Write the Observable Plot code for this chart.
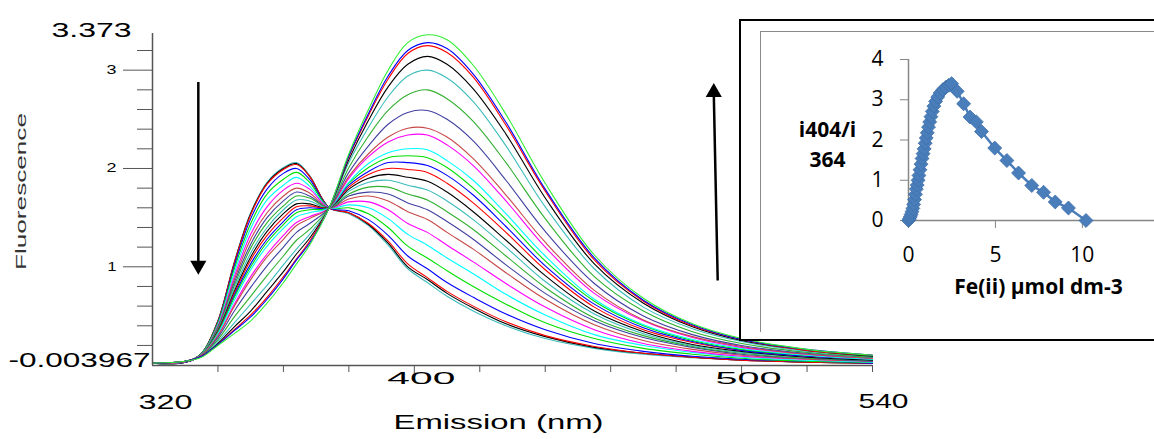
<!DOCTYPE html>
<html>
<head>
<meta charset="utf-8">
<script src="https://cdn.jsdelivr.net/npm/d3@7"></script>
<script src="https://cdn.jsdelivr.net/npm/@observablehq/plot@0.6"></script>
<style>
html, body { margin: 0; padding: 0; background: #fff; }
#wrap { position: relative; width: 1154px; height: 439px; overflow: hidden; background: #fff; }
#main { position: absolute; left: 0; top: 0; }
#insetBox { position: absolute; left: 739px; top: 19px; width: 440px; height: 318px; border: 2px solid #000; background: #fff; }
#insetFrame { position: absolute; left: 760px; top: 31px; width: 420px; height: 300px; border-left: 1.5px solid #8a8a8a; border-top: 1.5px solid #8a8a8a; }
#inset { position: absolute; left: 740px; top: 20px; }
</style>
</head>
<body>
<div id="wrap">
  <div id="main"></div>
  <div id="insetBox"></div>
  <div id="insetFrame"></div>
  <div id="inset"></div>
</div>
<script>
// ---------- Main chart data: emission spectra (Fluorescence vs nm) ----------
const wavelengths = [320,330,335,340,345,350,355,360,364,368,374,380,386,392,398,404,410,418,428,440,455,470,485,500,520,540];

const c00 = [0.02,0.03,0.12,0.45,1.05,1.55,1.86,2.01,2.06,1.93,1.60,1.54,1.42,1.22,0.98,0.84,0.70,0.55,0.40,0.27,0.17,0.11,0.075,0.05,0.03,0.02];
const c01 = [0.02,0.03,0.12,0.45,1.04,1.54,1.85,2.00,2.05,1.92,1.60,1.55,1.43,1.24,1.00,0.87,0.73,0.58,0.42,0.29,0.18,0.12,0.08,0.05,0.03,0.02];
const c02 = [0.02,0.03,0.12,0.45,1.04,1.53,1.84,1.99,2.04,1.92,1.60,1.55,1.44,1.26,1.03,0.89,0.75,0.60,0.44,0.30,0.19,0.12,0.08,0.05,0.03,0.02];
const c03 = [0.02,0.03,0.12,0.44,1.01,1.49,1.79,1.95,2.00,1.89,1.60,1.57,1.48,1.32,1.11,0.98,0.84,0.69,0.52,0.36,0.22,0.14,0.09,0.06,0.04,0.02];
const c04 = [0.02,0.03,0.12,0.43,0.98,1.44,1.74,1.89,1.96,1.86,1.60,1.60,1.54,1.40,1.21,1.09,0.96,0.80,0.62,0.43,0.27,0.17,0.11,0.07,0.04,0.03];
const c05 = [0.02,0.03,0.11,0.41,0.94,1.39,1.68,1.83,1.91,1.82,1.60,1.63,1.60,1.49,1.33,1.22,1.09,0.93,0.72,0.51,0.31,0.20,0.13,0.08,0.05,0.03];
const c06 = [0.02,0.03,0.11,0.40,0.90,1.33,1.61,1.78,1.85,1.79,1.60,1.66,1.66,1.58,1.44,1.35,1.22,1.05,0.83,0.59,0.36,0.22,0.14,0.09,0.06,0.04];
const c07 = [0.02,0.03,0.11,0.39,0.87,1.28,1.55,1.72,1.80,1.75,1.60,1.69,1.72,1.67,1.56,1.48,1.35,1.18,0.94,0.67,0.41,0.25,0.16,0.10,0.06,0.04];
const c08 = [0.02,0.03,0.11,0.38,0.84,1.23,1.50,1.67,1.76,1.72,1.60,1.72,1.76,1.74,1.65,1.58,1.46,1.28,1.02,0.73,0.45,0.28,0.18,0.11,0.07,0.04];
const c09 = [0.02,0.03,0.11,0.37,0.81,1.19,1.45,1.62,1.72,1.70,1.60,1.74,1.81,1.81,1.74,1.68,1.56,1.38,1.11,0.79,0.48,0.30,0.19,0.12,0.07,0.05];
const c10 = [0.02,0.03,0.11,0.36,0.78,1.14,1.40,1.58,1.68,1.67,1.60,1.77,1.86,1.88,1.83,1.78,1.67,1.48,1.20,0.85,0.52,0.32,0.20,0.13,0.08,0.05];
const c11 = [0.02,0.03,0.10,0.35,0.75,1.10,1.36,1.54,1.64,1.64,1.60,1.79,1.90,1.94,1.91,1.87,1.76,1.56,1.27,0.91,0.55,0.34,0.21,0.14,0.08,0.05];
const c12 = [0.02,0.03,0.10,0.34,0.73,1.07,1.32,1.50,1.61,1.62,1.60,1.81,1.94,2.00,1.99,1.96,1.85,1.65,1.35,0.97,0.59,0.36,0.23,0.15,0.09,0.06];
const c13 = [0.02,0.03,0.10,0.33,0.71,1.03,1.28,1.46,1.58,1.60,1.60,1.83,1.97,2.06,2.06,2.03,1.93,1.73,1.41,1.01,0.62,0.38,0.24,0.15,0.09,0.06];
const c14 = [0.02,0.035,0.10,0.33,0.69,1.00,1.25,1.43,1.55,1.58,1.60,1.85,2.01,2.11,2.13,2.11,2.01,1.80,1.48,1.06,0.65,0.40,0.25,0.16,0.10,0.06];
const c15 = [0.02,0.035,0.10,0.32,0.66,0.97,1.21,1.39,1.51,1.55,1.60,1.86,2.05,2.16,2.20,2.19,2.08,1.88,1.54,1.11,0.67,0.41,0.26,0.17,0.10,0.06];
const c16 = [0.02,0.035,0.10,0.30,0.62,0.90,1.13,1.32,1.45,1.51,1.60,1.90,2.12,2.27,2.34,2.34,2.24,2.03,1.67,1.20,0.73,0.45,0.28,0.18,0.11,0.07];
const c17 = [0.02,0.035,0.10,0.30,0.60,0.87,1.10,1.28,1.42,1.49,1.60,1.92,2.15,2.32,2.41,2.41,2.32,2.10,1.73,1.25,0.76,0.46,0.29,0.19,0.11,0.07];
const c18 = [0.02,0.04,0.09,0.28,0.55,0.79,1.01,1.20,1.35,1.44,1.60,1.96,2.23,2.45,2.57,2.59,2.50,2.28,1.88,1.36,0.83,0.50,0.31,0.20,0.12,0.08];
const c19 = [0.02,0.04,0.09,0.26,0.49,0.70,0.91,1.11,1.27,1.38,1.60,2.01,2.33,2.59,2.75,2.80,2.71,2.48,2.06,1.49,0.90,0.55,0.34,0.22,0.13,0.08];
const c20 = [0.02,0.04,0.09,0.24,0.43,0.62,0.81,1.02,1.18,1.33,1.60,2.06,2.42,2.73,2.94,3.00,2.92,2.68,2.23,1.61,0.98,0.59,0.37,0.24,0.14,0.09];
const c21 = [0.02,0.04,0.09,0.22,0.39,0.55,0.75,0.95,1.13,1.29,1.60,2.09,2.49,2.83,3.06,3.14,3.06,2.81,2.35,1.70,1.03,0.63,0.39,0.25,0.15,0.09];
const c22 = [0.02,0.04,0.09,0.21,0.36,0.51,0.69,0.90,1.08,1.26,1.60,2.12,2.54,2.91,3.17,3.25,3.18,2.93,2.44,1.77,1.07,0.65,0.40,0.26,0.15,0.10];
const c23 = [0.02,0.04,0.09,0.21,0.35,0.49,0.67,0.88,1.07,1.24,1.60,2.13,2.56,2.94,3.20,3.28,3.22,2.96,2.47,1.79,1.09,0.66,0.41,0.26,0.16,0.10];
const c24 = [0.02,0.04,0.08,0.20,0.32,0.45,0.63,0.84,1.03,1.22,1.60,2.15,2.60,3.00,3.28,3.36,3.31,3.05,2.55,1.85,1.12,0.68,0.42,0.27,0.16,0.10];

const curveColors = ["#3cbcbc","#000000","#ff0000","#0000ff","#00e000","#00ffff","#ff00ff","#c84848","#4040a0","#30b030",
                     "#3cbcbc","#000000","#ff0000","#0000ff","#00e000","#00ffff","#ff00ff","#c84848","#4040a0","#30b030",
                     "#3cbcbc","#000000","#ff0000","#0000ff","#33ee33"];

const yMajorTicks = [1, 2, 3];
const yMinorTicks = [0.2,0.4,0.6,0.8,1.2,1.4,1.6,1.8,2.2,2.4,2.6,2.8,3.2];
const xMinorTicks = [340,360,380,420,440,460,480,520,540];
const xMajorTicks = [400, 500];
const yMin = -0.003967, yMax = 3.373;
const xMin = 320, xMax = 540;

// arrow annotations (data units)
const arrowLines = [
  {x1: 334, y1: 2.88, x2: 334, y2: 1.02},
  {x1: 492.7, y1: 0.86, x2: 491.5, y2: 2.77}
];
const arrowDown = [{x: 334, y: 1.015}];
const arrowUp = [{x: 491.5, y: 2.774}];

// ---------- Inset data ----------
const insetX = [0,0.05,0.1,0.15,0.2,0.25,0.3,0.35,0.4,0.45,0.5,0.55,0.6,0.66,0.72,0.78,0.84,0.9,0.96,1.02,1.08,1.15,1.22,1.29,1.37,1.46,1.56,1.68,1.82,1.98,2.15,2.32,2.48,
                2.8,3.17,3.54,3.9,4.2,4.96,5.66,6.33,7.09,7.77,8.44,9.2,10.21];
const insetY = [0,0.04,0.09,0.15,0.22,0.3,0.4,0.52,0.65,0.78,0.88,1.0,1.12,1.26,1.4,1.54,1.66,1.78,1.92,2.05,2.18,2.32,2.45,2.58,2.71,2.84,2.96,3.07,3.17,3.25,3.31,3.36,3.40,
                3.21,2.9,2.57,2.45,2.21,1.8,1.49,1.18,0.87,0.7,0.46,0.31,0];
const insetYTicks = [0,1,2,3,4];
const insetXTicks = [0,5,10];

// ---------- build tables ----------
const spectra = [c00,c01,c02,c03,c04,c05,c06,c07,c08,c09,c10,c11,c12,c13,c14,c15,c16,c17,c18,c19,c20,c21,c22,c23,c24];
const rows = spectra.flatMap((vals, k) => vals.map((v, j) => ({id: k, nm: wavelengths[j], v, color: curveColors[k]})));
const insetRows = insetX.map((x, i) => ({x, y: insetY[i]}));

const triDown = {draw(ctx, size) { const y = Math.sqrt(size / (Math.sqrt(3) * 3)); ctx.moveTo(0, 2 * y); ctx.lineTo(-Math.sqrt(3) * y, -y); ctx.lineTo(Math.sqrt(3) * y, -y); ctx.closePath(); }};
const triUp = {draw(ctx, size) { const y = Math.sqrt(size / (Math.sqrt(3) * 3)); ctx.moveTo(0, -2 * y); ctx.lineTo(-Math.sqrt(3) * y, y); ctx.lineTo(Math.sqrt(3) * y, y); ctx.closePath(); }};

const axisGray = "#555";
const F = "Liberation Sans, Arial, sans-serif";

const main = Plot.plot({
  width: 1154, height: 439,
  marginLeft: 152, marginRight: 282, marginTop: 33, marginBottom: 74,
  x: {domain: [xMin, xMax], axis: null, label: null},
  y: {domain: [yMin, yMax], axis: null, label: null},
  style: {background: "#fff", fontFamily: F, color: "#000"},
  marks: [
    Plot.line(rows, {x: "nm", y: "v", z: "id", stroke: "color", strokeWidth: 1.1, curve: "catmull-rom"}),
    Plot.ruleX([xMin], {stroke: axisGray, strokeWidth: 1.5}),
    Plot.ruleY([yMin], {stroke: axisGray, strokeWidth: 1.5}),
    Plot.axisY(yMajorTicks, {tickSize: 29, tickPadding: 7, fontSize: 12, tickFormat: d => String(d), stroke: axisGray, fill: "#000", label: null}),
    Plot.axisY(yMinorTicks, {tickSize: 15, tickFormat: () => "", stroke: axisGray, label: null}),
    Plot.axisX(xMinorTicks, {tickSize: 7, tickFormat: () => "", stroke: axisGray, label: null}),
    Plot.axisX(xMajorTicks, {tickSize: 12, tickFormat: () => "", stroke: axisGray, label: null}),
    Plot.text(xMajorTicks, {x: d => d, frameAnchor: "bottom", dy: 18, dx: 7, text: d => String(d), fontSize: 17, fill: "#000"}),
    Plot.text([String(xMin)], {frameAnchor: "bottom-left", dx: 13, dy: 43, text: d => d, fontSize: 21, textAnchor: "middle"}),
    Plot.text([String(xMax)], {frameAnchor: "bottom-right", dx: 11, dy: 42, text: d => d, fontSize: 21, textAnchor: "middle"}),
    Plot.text([String(yMax)], {frameAnchor: "top-left", dx: -61, dy: -11, text: d => d, fontSize: 21, textAnchor: "middle"}),
    Plot.text([String(yMin)], {frameAnchor: "bottom-left", dx: -73, dy: 1, text: d => d, fontSize: 21, textAnchor: "middle"}),
    Plot.text(["Emission (nm)"], {frameAnchor: "bottom", dx: -14, dy: 63, text: d => d, fontSize: 21, textAnchor: "middle"}),
    Plot.text(["Fluorescence"], {frameAnchor: "left", dx: -131, dy: -8, rotate: -90, text: d => d, fontSize: 14, fill: "#333", textAnchor: "middle"}),
    Plot.link(arrowLines, {x1: "x1", y1: "y1", x2: "x2", y2: "y2", stroke: "#000", strokeWidth: 2.5}),
    Plot.dot(arrowDown, {x: "x", y: "y", symbol: triDown, r: 6, fill: "#000", stroke: null}),
    Plot.dot(arrowUp, {x: "x", y: "y", symbol: triUp, r: 6, fill: "#000", stroke: null})
  ]
});

// stretch labels like the original wide lettering
const stretch = {"3.373": 80, "-0.003967": 142, "320": 54, "540": 50, "400": 68, "500": 66, "Emission (nm)": 210, "Fluorescence": 157, "1": 9, "2": 10, "3": 10};
main.querySelectorAll("text").forEach(t => {
  const s = t.textContent;
  if (stretch[s] && t.children.length === 0) {
    t.setAttribute("textLength", stretch[s]);
    t.setAttribute("lengthAdjust", "spacingAndGlyphs");
  }
});
document.getElementById("main").appendChild(main);

const IF = "Open Sans, sans-serif";
const insetGray = "#868686";
const inset = Plot.plot({
  width: 414, height: 321,
  marginLeft: 168, marginRight: 0, marginTop: 39, marginBottom: 121,
  x: {domain: [0, 14.15], axis: null, label: null},
  y: {domain: [0, 4], axis: null, label: null},
  style: {background: "transparent", fontFamily: IF, color: "#000"},
  marks: [
    Plot.ruleY([0], {stroke: insetGray, strokeWidth: 1.5}),
    Plot.ruleX([0], {stroke: insetGray, strokeWidth: 1.5}),
    Plot.axisY(insetYTicks, {tickSize: 8, tickPadding: 17, fontSize: 21, stroke: insetGray, fill: "#000", label: null}),
    Plot.axisX(insetXTicks, {tickSize: 8, tickPadding: 19, fontSize: 21, stroke: insetGray, fill: "#000", label: null}),
    Plot.line(insetRows, {x: "x", y: "y", stroke: "#4a7ebb", strokeWidth: 2.5}),
    Plot.dot(insetRows, {x: "x", y: "y", symbol: "diamond2", r: 6.3, fill: "#4a7ebb", stroke: "#3f6fa8", strokeWidth: 0.8}),
    Plot.text(["Fe(ii) μmol dm-3"], {frameAnchor: "bottom", dx: 7, dy: 73, text: d => d, fontSize: 21, fontWeight: "bold", textAnchor: "middle"}),
    Plot.text(["i404/i\n364"], {frameAnchor: "left", dx: -81, dy: 2, text: d => d, fontSize: 21, fontWeight: "bold", textAnchor: "middle", lineHeight: 1.45})
  ]
});
document.getElementById("inset").appendChild(inset);
</script>
</body>
</html>
